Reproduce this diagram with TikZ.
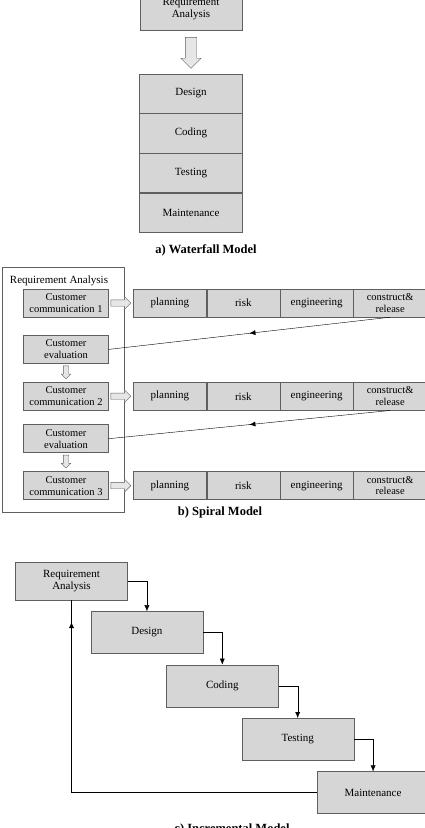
\documentclass[tikz,border=0pt]{standalone}
\usepackage{fontspec}
\setmainfont{Liberation Serif}
\usepackage{tikz}
\usetikzlibrary{shapes,arrows.meta,positioning,decorations.markings}
\definecolor{boxfill}{RGB}{214,214,214}
\definecolor{boxline}{RGB}{95,95,95}
\tikzstyle{phase} = [rectangle, draw=boxline, fill=boxfill, text=black, align=center, font=\fontsize{11}{12.5}\selectfont, inner sep=1pt]
\tikzstyle{stage} = [phase, minimum width=103pt, minimum height=39.25pt]
\tikzstyle{cust} = [phase, minimum width=85pt, minimum height=28pt, font=\fontsize{10.5}{12}\selectfont]
\tikzstyle{cell} = [phase, minimum width=73pt, minimum height=28pt]
\tikzstyle{incr} = [phase, minimum width=112pt, minimum height=42pt]
\tikzstyle{hollow} = [single arrow, draw=boxline, fill=boxfill!60, single arrow head extend=4.5pt, inner sep=5.5pt, minimum height=31pt]
\tikzstyle{hsmall} = [hollow, inner sep=3pt, single arrow head extend=3pt, minimum height=20pt]
\tikzstyle{vsmall} = [hollow, inner sep=2.5pt, single arrow head extend=2pt, minimum height=13pt, shape border rotate=270]
\tikzstyle{textonly} = [draw=none, fill=none, text centered, font=\fontsize{11}{13}\selectfont]
\tikzstyle{caption} = [draw=none, fill=none, font=\bfseries\fontsize{12.5}{14}\selectfont]
\tikzstyle{tedge} = [draw, thin, -{Latex[length=6pt,width=5pt]}]
\tikzset{midtip/.style={draw, thin, postaction={decorate}, decoration={markings, mark=at position #1 with {\arrow{Latex[length=6pt,width=5pt]}}}}}

\begin{document}
\begin{tikzpicture}[x=1pt, y=-1pt]
\useasboundingbox (0,0) rectangle (424,828);

% a) waterfall =============================
\node[phase, minimum width=102pt, minimum height=42pt] (wreq) at (191,9) {Requirement\\Analysis};
\node[hollow, shape border rotate=270, below=7pt of wreq] (warr) {};
\node[stage, below=5pt of warr] (wdes) {Design};
\node[stage, below=0pt of wdes] (wcod) {Coding};
\node[stage, below=0pt of wcod] (wtes) {Testing};
\node[stage, below=0pt of wtes] (wmai) {Maintenance};
\node[caption] (wcap) at (206,250) {a) Waterfall Model};

% b) spiral =============================
\draw[boxline] (2,267) rectangle (124,512);
\node[textonly] (sreq) at (59,281) {Requirement Analysis};
\node[cust] (c1) at (66,303) {Customer\\communication 1};
\node[cust, below=18pt of c1] (e1) {Customer\\evaluation};
\node[vsmall, below=2pt of e1] (d1) {};
\node[cust, below=3pt of d1] (c2) {Customer\\communication 2};
\node[cust, below=14pt of c2] (e2) {Customer\\evaluation};
\node[vsmall, below=2pt of e2] (d2) {};
\node[cust, below=3pt of d2] (c3) {Customer\\communication 3};

% rows
\foreach \i in {1,2,3} {
  \node[hsmall, right=2pt of c\i] (h\i) {};
  \node[cell, right=2pt of h\i] (p\i) {planning};
  \node[cell, right=0pt of p\i] (r\i) {risk};
  \node[cell, right=0pt of r\i] (g\i) {engineering};
  \node[cell, right=0pt of g\i, font=\fontsize{10.5}{11.5}\selectfont] (k\i) {construct\&\\release};
}

% edges
\path[midtip=0.5] (k1.south) -- (e1.east);
\path[midtip=0.5] (k2.south) -- (e2.east);
\node[caption] (scap) at (220,512) {b) Spiral Model};

% c) incremental =============================
\node[incr, minimum height=38pt] (ireq) at (71.5,581) {Requirement\\Analysis};
\node[incr, below right=11pt and -37pt of ireq] (ides) {Design};
\node[incr, below right=11pt and -37pt of ides] (icod) {Coding};
\node[incr, below right=11pt and -37pt of icod] (ites) {Testing};
\node[incr, below right=11pt and -37pt of ites] (imai) {Maintenance};

% edges
\path[tedge] (ireq.east) -| (ides.north);
\path[tedge] (ides.east) -| (icod.north);
\path[tedge] (icod.east) -| (ites.north);
\path[tedge] (ites.east) -| (imai.north);
\path[midtip=0.95] (imai.west) -| (ireq.south);
\node[caption] (icap) at (232,829) {c) Incremental Model};

\end{tikzpicture}
\end{document}
